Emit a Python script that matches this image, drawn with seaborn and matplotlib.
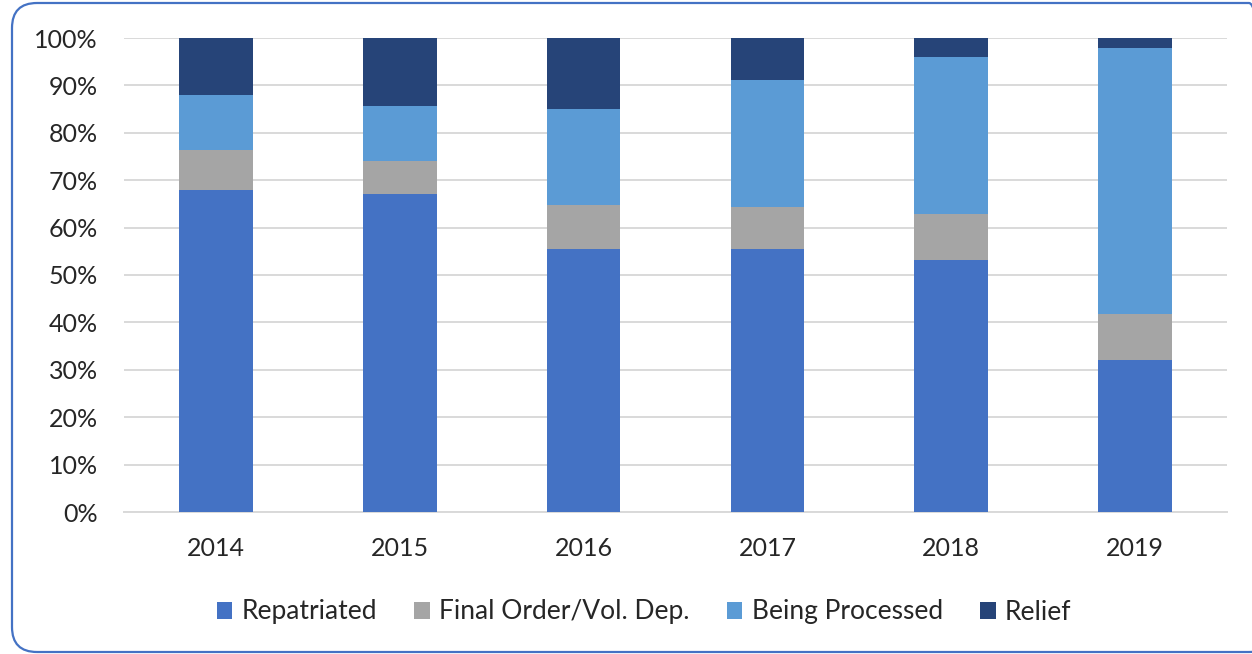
import numpy as np
import pandas as pd
import matplotlib
matplotlib.use("Agg")
import matplotlib.pyplot as plt
from matplotlib.patches import Patch, FancyBboxPatch
from matplotlib.ticker import FuncFormatter
import seaborn as sns

# --- datos (porcentajes) ---
years = ["2014", "2015", "2016", "2017", "2018", "2019"]
repatriated = [67.9, 67.0, 55.4, 55.4, 53.2, 32.1]
final_order = [8.4, 7.1, 9.3, 8.9, 9.6, 9.7]
being_processed = [11.6, 11.6, 20.3, 26.8, 33.2, 56.1]
relief = [12.1, 14.3, 15.0, 8.9, 4.0, 2.1]

series_names = ["Repatriated", "Final Order/Vol. Dep.", "Being Processed", "Relief"]
colors = ["#4472C4", "#A5A5A5", "#5B9BD5", "#264478"]

df = pd.DataFrame({
    "year": years,
    "Repatriated": repatriated,
    "Final Order/Vol. Dep.": final_order,
    "Being Processed": being_processed,
    "Relief": relief,
})

# acumulados para apilar (se dibujan de arriba hacia abajo)
cum = df[series_names].cumsum(axis=1)
cum["year"] = df["year"]

sns.set_style("white")
plt.rcParams["font.family"] = ["Lato", "DejaVu Sans"]

fig = plt.figure(figsize=(12.52, 6.54), dpi=100)
ax = fig.add_axes([124 / 1252, 1 - 512 / 654, (1227 - 124) / 1252, (512 - 38) / 654])

for name, col in reversed(list(zip(series_names, colors))):
    sns.barplot(data=cum, x="year", y=name, color=col, saturation=1,
                width=0.4, ax=ax, zorder=3, linewidth=0)

ax.set_xlim(-0.5, 5.5)
ax.set_ylim(0, 100)
ax.set_yticks(np.arange(0, 101, 10))
ax.yaxis.set_major_formatter(FuncFormatter(lambda v, p: f"{v:.0f}%"))
ax.grid(axis="y", color="#D9D9D9", linewidth=1.4, zorder=0)
ax.set_axisbelow(True)
ax.set_xlabel("")
ax.set_ylabel("")
for s in ["top", "right", "left"]:
    ax.spines[s].set_visible(False)
ax.spines["bottom"].set_color("#D9D9D9")
ax.spines["bottom"].set_linewidth(1.4)
ax.tick_params(axis="both", length=0, labelsize=18, colors="#262626")
ax.tick_params(axis="y", pad=19)
ax.tick_params(axis="x", pad=18)

# leyenda
handles = [Patch(facecolor=c, edgecolor="none") for c in colors]
fig.legend(handles, series_names, loc="center", ncol=4,
           bbox_to_anchor=(644 / 1252, 1 - 612 / 654), frameon=False,
           fontsize=19, handlelength=0.6, handleheight=0.6,
           handletextpad=0.35, columnspacing=1.4, labelcolor="#262626")

# borde redondeado del area del grafico (se sale por la derecha)
border = FancyBboxPatch((12, 2), 1262, 649, boxstyle="round,pad=0,rounding_size=25",
                        transform=None, facecolor="none", edgecolor="#4472C4",
                        linewidth=1.6)
fig.add_artist(border)

plt.savefig("out.png", dpi=100)
